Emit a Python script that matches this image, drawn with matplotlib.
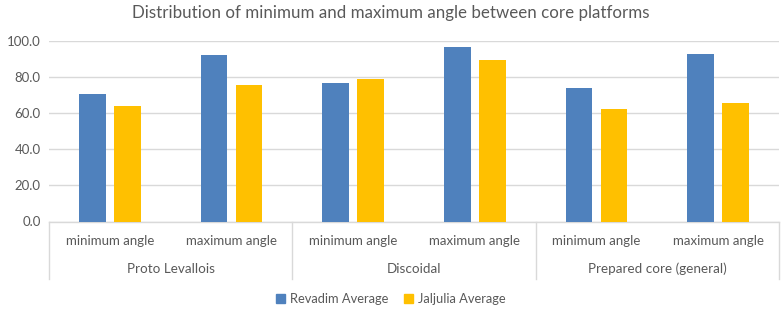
import matplotlib
matplotlib.use("Agg")
import matplotlib.pyplot as plt
from matplotlib.patches import Patch
import numpy as np

plt.rcParams['font.family'] = ['Lato', 'DejaVu Sans']

groups = ["Proto Levallois", "Discoidal", "Prepared core (general)"]
subcats = ["minimum angle", "maximum angle"]
revadim = [70.6, 92.1, 76.7, 96.5, 73.8, 92.6]
jaljulia = [63.8, 75.5, 79.1, 89.5, 62.2, 65.5]
series_names = ["Revadim Average", "Jaljulia Average"]
yticks = [0, 20, 40, 60, 80, 100]

blue = "#4F81BD"
yellow = "#FFC000"
txt = "#595959"
grid = "#D9D9D9"

fig = plt.figure(figsize=(7.82, 3.11), dpi=100)
ax = fig.add_axes([49/782, (311-221.5)/311, (779-49)/782, 180.5/311])

n = len(revadim)
x = np.arange(n)
w = 0.22
off = 0.143
ax.bar(x - off, revadim, w, color=blue, zorder=3)
ax.bar(x + off, jaljulia, w, color=yellow, zorder=3)

ax.set_xlim(-0.5, n - 0.5)
ax.set_ylim(0, 100)
ax.set_yticks(yticks)
ax.set_yticklabels([f"{v:.1f}" for v in yticks], color=txt, fontsize=9.5)
ax.yaxis.grid(True, color=grid, linewidth=1, zorder=0)
ax.tick_params(axis='y', length=0, pad=6)
ax.set_xticks([])
for s in ['top', 'right', 'left']:
    ax.spines[s].set_visible(False)
ax.spines['bottom'].set_color(grid)
ax.spines['bottom'].set_linewidth(1)

trans = matplotlib.transforms.blended_transform_factory(ax.transData, ax.transAxes)
ah = 180.5
for i in range(n):
    ax.text(x[i], -(241 - 221.5)/ah, subcats[i % 2], transform=trans,
            ha='center', va='center', color=txt, fontsize=9.5)
for g, name in enumerate(groups):
    ax.text(2*g + 0.5, -(269 - 221.5)/ah, name, transform=trans,
            ha='center', va='center', color=txt, fontsize=9.7)
for b in [-0.5, 1.5, 3.5, 5.5]:
    ax.plot([b, b], [0, -(279 - 221.5)/ah], transform=trans, color=grid,
            linewidth=1, clip_on=False)

fig.text(0.5, 1 - 13/311, "Distribution of minimum and maximum angle between core platforms",
         ha='center', va='center', color=txt, fontsize=12.2)

handles = [Patch(color=blue), Patch(color=yellow)]
fig.legend(handles, series_names, loc='center', bbox_to_anchor=(0.5, 1 - 299/311),
           ncol=2, frameon=False, fontsize=9.3, handlelength=0.7, handleheight=0.7,
           handletextpad=0.4, columnspacing=1.2, labelcolor=txt)

fig.savefig("out.png", dpi=100)
